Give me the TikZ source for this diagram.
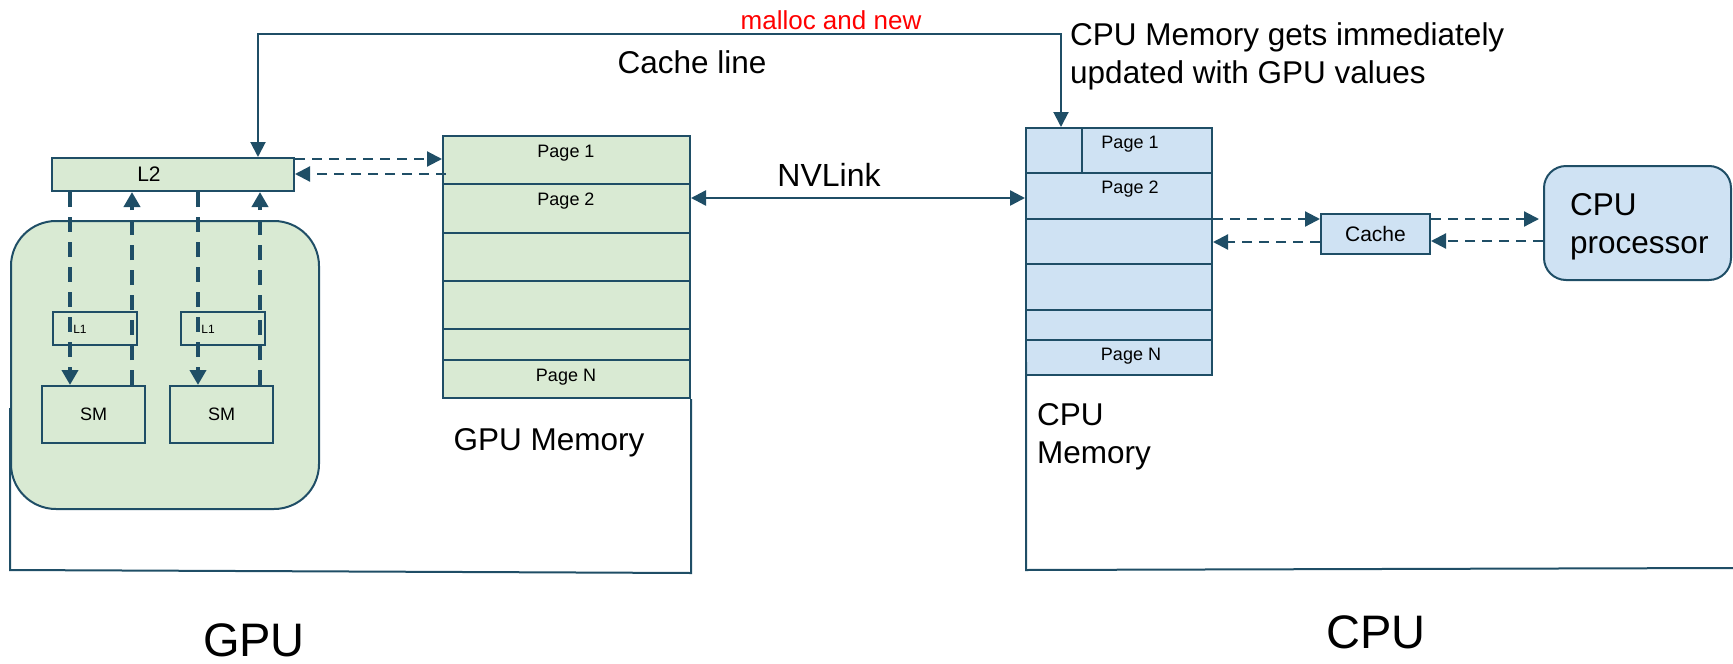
\documentclass[tikz,border=0pt]{standalone}
\usepackage{fontspec}
\setmainfont{Liberation Sans}
\usetikzlibrary{arrows.meta,calc}
\definecolor{ln}{HTML}{1F4E66}
\definecolor{gfill}{HTML}{D9EAD3}
\definecolor{bfill}{HTML}{CFE2F3}
\begin{document}
\begin{tikzpicture}[x=1pt,y=-1pt,
  box/.style={draw=ln, line width=2pt, inner sep=0pt},
  gbox/.style={box, fill=gfill},
  bbox/.style={box, fill=bfill},
  conn/.style={draw=ln, line width=2pt},
  vdash/.style={draw=ln, line width=4.2pt, dash pattern=on 15pt off 10pt, -{Triangle[length=15pt,width=16pt]}},
  hdash/.style={draw=ln, line width=2.2pt, dash pattern=on 10pt off 7pt, -{Triangle[length=15pt,width=15pt]}},
  fbig/.style={font=\fontsize{31.5}{38}\selectfont},
  fpage/.style={font=\fontsize{18}{22}\selectfont},
  fmid/.style={font=\fontsize{21}{25}\selectfont},
  fsmall/.style={font=\fontsize{12}{14}\selectfont},
  fhuge/.style={font=\fontsize{47}{56}\selectfont}
]
\useasboundingbox (0,0) rectangle (1733,664);

% ---------- GPU side ----------
\node[gbox, rounded corners=45pt, minimum width=308pt, minimum height=288pt] (gpu) at (165,365) {};
\node[gbox, minimum width=242pt, minimum height=33pt] (L2) at (173,174.5) {};
\node[fmid] (L2lab) at (149,174) {L2};
\node[box, minimum width=84pt, minimum height=33pt] (L1a) at (95,328.5) {};
\node[box, minimum width=84pt, minimum height=33pt] (L1b) at (223,328.5) {};
\node[fsmall] (L1alab) at (80,329) {L1};
\node[fsmall] (L1blab) at (208,329) {L1};
\node[gbox, fpage, minimum width=103pt, minimum height=57pt] (SMa) at (93.5,414.5) {SM};
\node[gbox, fpage, minimum width=103pt, minimum height=57pt] (SMb) at (221.5,414.5) {SM};

\draw[vdash] (L2.south -| 70,0) -- (SMa.north -| 70,0);
\draw[vdash] (SMa.north -| 132,0) -- (L2.south -| 132,0);
\draw[vdash] (L2.south -| 198,0) -- (SMb.north -| 198,0);
\draw[vdash] (SMb.north -| 260,0) -- (L2.south -| 260,0);

% GPU memory
\node[gbox, minimum width=247pt, minimum height=262pt] (gmem) at (566.5,267) {};
\foreach \yy in {184,233,281,329,360}
  \draw[conn] (gmem.west |- 0,\yy) -- (gmem.east |- 0,\yy);
\node[fpage] (gp1) at (566,153) {Page 1};
\node[fpage] (gp2) at (566,201) {Page 2};
\node[fpage] (gpn) at (566,377) {Page N};
\node[fbig, anchor=base] (gmemlab) at (549,450) {GPU Memory};

\draw[hdash] (L2.east |- 0,159) -- (gmem.west |- 0,159);
\draw[hdash] ($(gmem.west |- 0,174)+(4,0)$) -- (L2.east |- 0,174);

% GPU outline
\coordinate (gbl) at (10,570);
\coordinate (gbr) at (691,573);
\draw[conn] (10,408) -- (gbl) -- (gbr) -- (gbr |- gmem.south);
\node[fhuge, anchor=base] (gpulab) at (254,656) {GPU};

% ---------- CPU side ----------
\node[bbox, minimum width=186pt, minimum height=247pt] (cmem) at (1119,251.5) {};
\foreach \yy in {173,219,264,310,340}
  \draw[conn] (cmem.west |- 0,\yy) -- (cmem.east |- 0,\yy);
\draw[conn] (cmem.north -| 1082,0) -- (1082,173);
\node[fpage] (cp1) at (1130,144) {Page 1};
\node[fpage] (cp2) at (1130,189) {Page 2};
\node[fpage] (cpn) at (1131,356) {Page N};
\node[fbig, anchor=north west, align=left, inner sep=0pt] (cmemlab) at (1037,403) {CPU\\Memory};

\node[bbox, fmid, minimum width=109pt, minimum height=40pt] (cache) at (1375.5,234) {Cache};
\node[bbox, rounded corners=22pt, minimum width=187pt, minimum height=114pt] (cpu) at (1637.5,223) {};
\node[fbig, anchor=north west, align=left, inner sep=0pt] (cpulab) at (1570,193) {CPU\\processor};

\draw[hdash] (cmem.east |- 0,219) -- (cache.west |- 0,219);
\draw[hdash] (cache.west |- 0,242) -- (cmem.east |- 0,242);
\draw[hdash] (cache.east |- 0,219) -- ($(cpu.west |- 0,219)+(-4,0)$);
\draw[hdash] (cpu.west |- 0,241) -- (cache.east |- 0,241);

% CPU outline
\coordinate (cbl) at (1026,570);
\coordinate (cbr) at (1733,568);
\draw[conn] (1026,362) -- (cbl) -- (cbr);
\node[fhuge, anchor=base] (cpubig) at (1376,648) {CPU};

% ---------- links ----------
\draw[conn, line width=2.5pt, {Triangle[length=15pt,width=15pt]}-{Triangle[length=15pt,width=15pt]}]
  (gmem.east |- 0,198) -- (cmem.west |- 0,198);
\node[font=\fontsize{32}{38}\selectfont] (nvl) at (829,175) {NVLink};

\coordinate (tl) at (258,34);
\coordinate (tr) at (1061,34);
\draw[conn, {Triangle[length=15pt,width=15pt]}-{Triangle[length=15pt,width=15pt]}]
  (L2.north -| tl) -- (tl) -- (tr) -- (cmem.north -| tr);
\node[font=\fontsize{26}{30}\selectfont, text=red] (malloc) at (831,20) {malloc and new};
\node[fbig] (cline) at (692,62) {Cache line};
\node[fbig, anchor=north west, align=left, inner sep=0pt] (note) at (1070,22) {CPU Memory gets immediately\\updated with GPU values};
\end{tikzpicture}
\end{document}
